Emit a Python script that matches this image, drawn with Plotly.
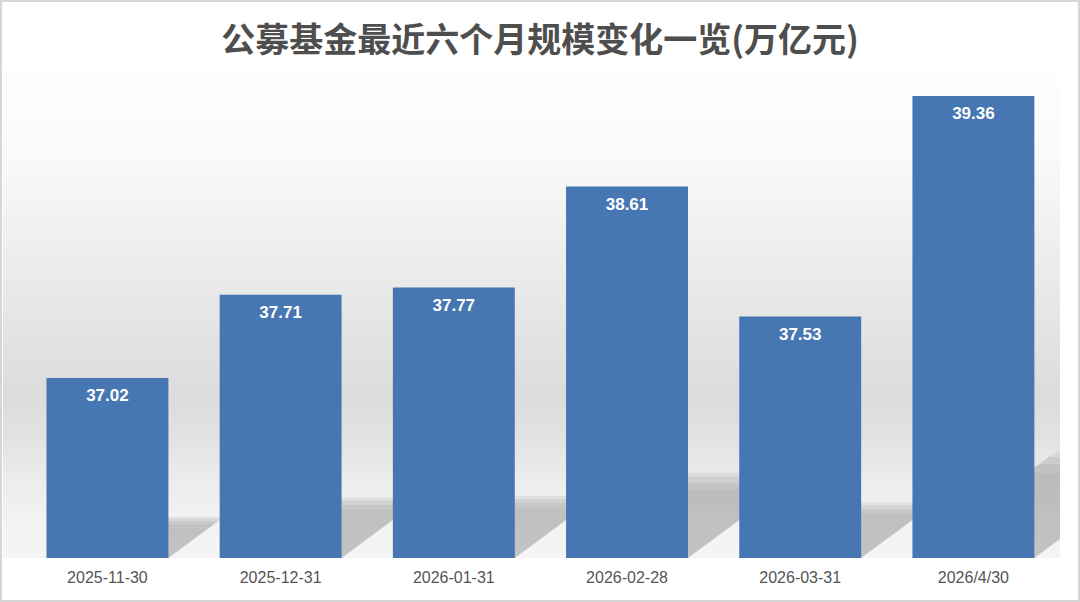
import base64
import struct
import zlib

import plotly.graph_objects as go

# data
dates = ["2025-11-30", "2025-12-31", "2026-01-31", "2026-02-28", "2026-03-31", "2026/4/30"]
scale = [37.02, 37.71, 37.77, 38.61, 37.53, 39.36]  # 万亿元

title_text = "公募基金最近六个月规模变化一览(万亿元)"

W, H = 1080, 602
M_L, M_R, M_T, M_B = 3, 20, 60, 44
y_min, y_max = 35.526, 39.659
x_min, x_max = -0.603, 5.5
bar_w = 0.704


def gradient_png(stops, n=256):
    # vertical grey gradient, 1 px wide, as a data uri
    rows = b""
    for i in range(n):
        t = i / (n - 1)
        for (t0, g0), (t1, g1) in zip(stops[:-1], stops[1:]):
            if t0 <= t <= t1:
                g = int(round(g0 + (g1 - g0) * (t - t0) / (t1 - t0)))
                break
        rows += b"\x00" + bytes([g, g, g])

    def chunk(tag, data):
        c = struct.pack(">I", len(data)) + tag + data
        return c + struct.pack(">I", zlib.crc32(tag + data) & 0xFFFFFFFF)

    png = b"\x89PNG\r\n\x1a\n"
    png += chunk(b"IHDR", struct.pack(">IIBBBBB", 1, n, 8, 2, 0, 0, 0))
    png += chunk(b"IDAT", zlib.compress(rows))
    png += chunk(b"IEND", b"")
    return "data:image/png;base64," + base64.b64encode(png).decode()


# stops: fraction from top of plot area -> grey level
bg_stops = [(0.0, 255), (0.18, 250), (0.38, 238), (0.54, 228), (0.68, 220),
            (0.76, 226), (0.84, 236), (0.92, 242), (1.0, 245)]

plot_w = W - M_L - M_R
plot_h = H - M_T - M_B
px_x = plot_w / (x_max - x_min)
px_y = plot_h / (y_max - y_min)

fig = go.Figure()

# soft floor shadows cast up and to the right of each bar (on the base axes,
# so the bars on the overlaying axes sit on top of them)
for i, v in enumerate(scale):
    h_px = (v - y_min) * px_y
    for f, a in [(1.0, 0.06), (0.95, 0.06), (0.88, 0.06), (0.8, 0.04)]:
        dy_px = 0.23 * h_px * f
        dx = 1.35 * dy_px / px_x
        dy = dy_px / px_y
        x0, x1 = i - bar_w / 2, i + bar_w / 2
        fig.add_trace(go.Scatter(
            x=[x0, x1, x1 + dx, x0 + dx, x0],
            y=[y_min, y_min, y_min + dy, y_min + dy, y_min],
            mode="lines",
            fill="toself",
            fillcolor="rgba(0,0,0,%.2f)" % a,
            line=dict(width=0),
            hoverinfo="skip",
            showlegend=False,
        ))

fig.add_trace(go.Bar(
    x=list(range(len(dates))),
    y=[v - y_min for v in scale],
    base=y_min,
    width=bar_w,
    marker=dict(color="#4677b3", line=dict(width=0)),
    hoverinfo="skip",
    xaxis="x2",
    yaxis="y2",
    showlegend=False,
))

# value labels a little below each bar top
fig.add_trace(go.Scatter(
    x=list(range(len(dates))),
    y=[v - 19 / px_y for v in scale],
    mode="text",
    text=["%.2f" % v for v in scale],
    textposition="middle center",
    textfont=dict(family="Liberation Sans, Arial, sans-serif", size=17, color="white", weight="bold"),
    hoverinfo="skip",
    xaxis="x2",
    yaxis="y2",
    showlegend=False,
))

fig.update_layout(
    width=W,
    height=H,
    margin=dict(l=M_L, r=M_R, t=M_T, b=M_B),
    paper_bgcolor="white",
    plot_bgcolor="white",
    title=dict(
        text=title_text,
        x=0.5,
        xref="container",
        xanchor="center",
        y=1 - 40 / H,
        yref="container",
        yanchor="middle",
        font=dict(family="Noto Sans CJK SC", size=34, color="#4e4e4e", weight="bold"),
    ),
    images=[dict(
        source=gradient_png(bg_stops),
        xref="paper", yref="paper",
        x=0, y=1, sizex=1, sizey=1,
        xanchor="left", yanchor="top",
        sizing="stretch",
        layer="below",
    )],
    shapes=[dict(
        type="rect",
        xref="paper", yref="paper",
        x0=-(M_L - 1) / plot_w, x1=1 + (M_R - 1) / plot_w,
        y0=-(M_B - 1) / plot_h, y1=1 + (M_T - 1) / plot_h,
        line=dict(color="#d6d6d6", width=2),
        layer="above",
    )],
    xaxis=dict(
        range=[x_min, x_max],
        tickvals=list(range(len(dates))),
        ticktext=dates,
        showgrid=False,
        zeroline=False,
        showline=False,
        ticklabelstandoff=8,
        tickfont=dict(family="Liberation Sans, Arial, sans-serif", size=16, color="#555555"),
        fixedrange=True,
    ),
    yaxis=dict(range=[y_min, y_max], visible=False, fixedrange=True),
    xaxis2=dict(range=[x_min, x_max], overlaying="x", visible=False, fixedrange=True),
    yaxis2=dict(range=[y_min, y_max], overlaying="y", visible=False, fixedrange=True),
)

fig.write_html(
    "out.html",
    config={"displayModeBar": False},
    post_script="document.body.style.margin='0';document.body.style.overflow='hidden';",
)
